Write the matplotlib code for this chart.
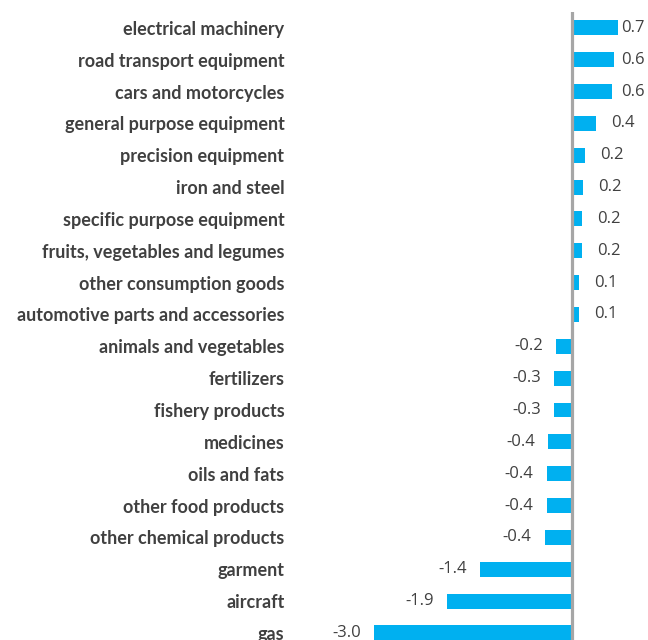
import matplotlib
matplotlib.use("Agg")
import matplotlib.pyplot as plt

categories = ["electrical machinery", "road transport equipment", "cars and motorcycles",
              "general purpose equipment", "precision equipment", "iron and steel",
              "specific purpose equipment", "fruits, vegetables and legumes",
              "other consumption goods", "automotive parts and accessories",
              "animals and vegetables", "fertilizers", "fishery products", "medicines",
              "oils and fats", "other food products", "other chemical products",
              "garment", "aircraft", "gas"]
values = [0.71, 0.64, 0.62, 0.38, 0.20, 0.17, 0.16, 0.16, 0.11, 0.11,
          -0.24, -0.26, -0.26, -0.36, -0.38, -0.38, -0.41, -1.40, -1.90, -3.00]

W, H = 648, 640
dpi = 100
fig = plt.figure(figsize=(W / dpi, H / dpi), dpi=dpi)
ax_left, ax_right, ax_top, ax_bottom = 290, 648, 12, 640
ax = fig.add_axes([ax_left / W, 1 - ax_bottom / H, (ax_right - ax_left) / W, (ax_bottom - ax_top) / H])

zero_px = 571.5
scale = 65.7
ax.set_xlim((ax_left - zero_px) / scale, (ax_right - zero_px) / scale)
row = 31.84
n_bottom = (ax_bottom - ax_top) / row - 0.5
ax.set_ylim(n_bottom, -0.5)

y = list(range(len(categories)))
ax.barh(y, values, height=0.47, color="#00B0F0", zorder=2)
ax.axvline(0, color="#A6A6A6", lw=2.3, zorder=3)

ax.set_yticks(y)
ax.set_yticklabels(categories, fontfamily="Lato", fontweight="bold", fontsize=13, color="#404040")
ax.tick_params(axis="y", length=0, pad=4)
ax.set_xticks([])
for s in ax.spines.values():
    s.set_visible(False)

xmax_label = (621 - zero_px) / scale
for yi, v in zip(y, values):
    lab = f"{v:.1f}"
    if v >= 0:
        xl = min(v + 15 / scale, xmax_label)
        ax.text(xl, yi, lab, ha="left", va="center", fontsize=12, fontfamily="Open Sans",
                color="#404040", clip_on=False)
    else:
        ax.text(v - 13 / scale, yi, lab, ha="right", va="center", fontsize=12,
                fontfamily="Open Sans", color="#404040", clip_on=False)

fig.savefig("out.png", dpi=dpi)
